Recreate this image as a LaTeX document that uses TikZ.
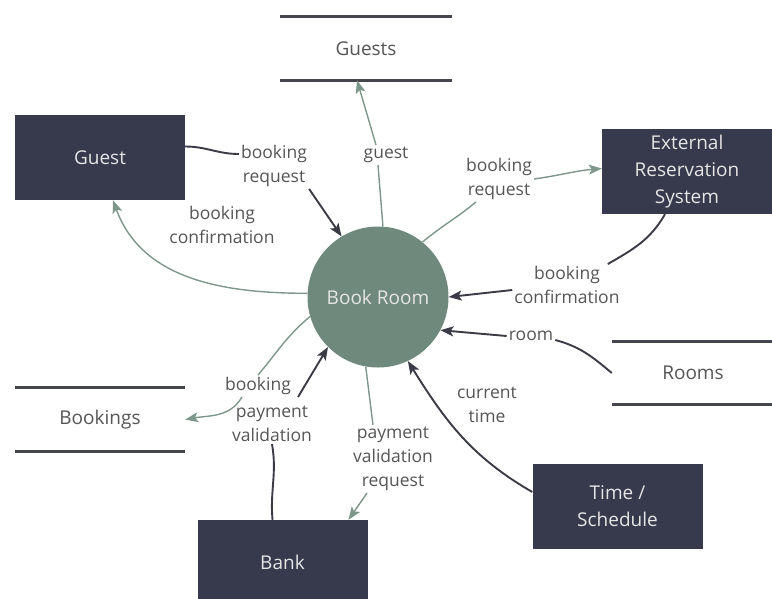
\documentclass[tikz,border=0pt]{standalone}
\usepackage{fontspec}
\setmainfont{Open Sans}
\usetikzlibrary{arrows.meta}

\definecolor{boxfill}{HTML}{373A4D}
\definecolor{procfill}{HTML}{6F8A7C}
\definecolor{darkink}{HTML}{3A3B47}
\definecolor{greenink}{HTML}{7D978A}
\definecolor{labelink}{HTML}{555555}
\definecolor{storeink}{HTML}{45454D}

\newcommand\flowfont{\fontsize{17.5}{24}\selectfont}
\newcommand\boxfont{\fontsize{19}{27}\selectfont}

\tikzset{
  entity/.style={fill=boxfill, text=white!90!black, minimum width=170pt,
    minimum height=85pt, align=center, font=\boxfont},
  process/.style={circle, fill=procfill, minimum size=141pt,
    text=white!90!black, font=\boxfont},
  store/.style={minimum height=63pt, text=labelink, font=\boxfont},
  storeline/.style={draw=storeink, line width=3pt},
  flowlabel/.style={text=labelink, align=center, inner sep=2pt, font=\flowfont},
  darkline/.style={draw=darkink, line width=1.9pt},
  greenline/.style={draw=greenink, line width=1.4pt},
  flowtip/.style={-{Stealth[length=13pt,width=10pt,inset=3pt]}}
}

\begin{document}
\begin{tikzpicture}[x=1pt,y=-1pt]
  \useasboundingbox (0,0) rectangle (772,598);

  % process
  \node[process] (room) at (378,297) {Book Room};

  % external entities
  \node[entity] (guest) at (100,157.5) {Guest};
  \node[entity] (ext) at (687,171.5) {External\\Reservation\\System};
  \node[entity] (time) at (617.5,506) {Time /\\Schedule};
  \node[entity] (bank) at (282.5,562.5) {Bank};

  % data stores
  \node[store, minimum width=172pt] (guests) at (366,48.5) {Guests};
  \node[store, minimum width=162pt] (rooms) at (693,373) {Rooms};
  \node[store, minimum width=170pt] (bookings) at (100,419.5) {Bookings};
  \foreach \s in {guests,rooms,bookings} {
    \draw[storeline] (\s.north west) -- (\s.north east);
    \draw[storeline] (\s.south west) -- (\s.south east);
  }

  % flow labels
  \node[flowlabel] (lblGR) at (274,166) {booking\\request};
  \node[flowlabel] (lblRG) at (222,225) {booking\\confirmation};
  \node[flowlabel] (lblG) at (386,155) {guest};
  \node[flowlabel] (lblRE) at (499,179) {booking\\request};
  \node[flowlabel] (lblER) at (567,285) {booking\\confirmation};
  \node[flowlabel] (lblRm) at (531,336) {room};
  \node[flowlabel] (lblT) at (487,405) {current\\time};
  \node[flowlabel] (lblPR) at (393,459) {payment\\validation\\request};
  \node[flowlabel] (lblPV) at (272,424) {payment\\validation};
  \node[flowlabel] (lblB) at (258,386) {booking};

  % guest <-> book room
  \draw[darkline] ([yshift=11pt]guest.east) to[out=0,in=180] ([yshift=12pt]lblGR.west);
  \draw[darkline, flowtip] (lblGR.south east) -- (room.121);
  \draw[greenline, flowtip] (room.177) to[out=180,in=-70] ([xshift=13pt]guest.south);

  % guests store
  \draw[greenline] (room.86) -- ([xshift=-8pt]lblG.south);
  \draw[greenline, flowtip] ([xshift=-10pt]lblG.north) -- ([xshift=-9pt]guests.south);

  % external reservation system
  \draw[greenline] (room.51) to[out=40,in=220] ([xshift=12pt]lblRE.south west);
  \draw[greenline, flowtip] (lblRE.east) to[out=8,in=185] ([yshift=3pt]ext.west);
  \draw[darkline] ([xshift=-22pt]ext.south) to[out=-120,in=30] ([xshift=-14pt]lblER.north east);
  \draw[darkline, flowtip] ([yshift=-5pt]lblER.west) -- (room.0);

  % rooms store
  \draw[darkline] (rooms.west) to[out=140,in=-15] ([yshift=-4pt]lblRm.east);
  \draw[darkline, flowtip] (lblRm.west) -- (room.-28);

  % time / schedule
  \draw[darkline, flowtip] ([yshift=14pt]time.west) to[out=150,in=-58] (room.-65);

  % bank
  \draw[greenline] (room.-100) -- ([xshift=-20pt]lblPR.north);
  \draw[greenline, flowtip] ([xshift=-26pt]lblPR.south) -- ([xshift=66pt]bank.north);
  \draw[darkline] ([xshift=-10pt]bank.north) to[out=95,in=-80] (lblPV.south);
  \draw[darkline, flowtip] ([xshift=-16pt,yshift=7pt]lblPV.north east) -- (room.-135);

  % bookings store
  \draw[greenline] (room.-164) to[out=-140,in=50] (lblB.north);
  \draw[greenline, flowtip] ([xshift=-16pt]lblB.south) to[out=-120,in=10] (bookings.east);
\end{tikzpicture}
\end{document}
